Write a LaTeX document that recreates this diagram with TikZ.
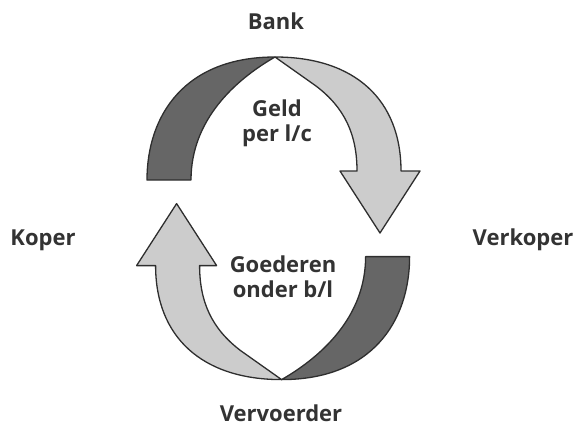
\documentclass[tikz,border=0pt]{standalone}
\usepackage{fontspec}
\setmainfont{Open Sans}
\definecolor{bandDark}{HTML}{666666}
\definecolor{bandLight}{HTML}{CCCCCC}
\definecolor{edge}{HTML}{2E2E2E}
\definecolor{txt}{HTML}{333333}
\tikzset{
  band/.style={draw=edge, line width=1.3pt, line join=round},
  lbl/.style={text=txt, font=\bfseries\fontsize{22}{25}\selectfont, inner sep=0pt, anchor=base, align=center},
}
\begin{document}
\begin{tikzpicture}[x=1pt,y=-1pt]
\useasboundingbox (0,0) rectangle (575,433);
\newcommand{\halfcycle}{%
  % dark crescent
  \path[band, fill=bandDark] (147,180) .. controls (147,115) and (185,57) .. (275,57)
    .. controls (235,80) and (191,120) .. (191,180) -- cycle;
  % light arrow
  \path[band, fill=bandLight] (275,57) .. controls (355,57) and (401,100) .. (401,171)
    -- (420,171) -- (380,233) -- (340,171) -- (357,171)
    .. controls (357,135) and (345,108) .. (316,86) -- cycle;
}
\halfcycle
\begin{scope}[rotate around={180:(278.3,218.3)}]
\halfcycle
\end{scope}
\node[lbl] (bank) at (276,30) {Bank};
\node[lbl] (koper) at (43,245) {Koper};
\node[lbl] (verkoper) at (523,245) {Verkoper};
\node[lbl] (vervoerder) at (281,421) {Vervoerder};
\node[lbl] (geld) at (277,142) {Geld\\per l/c};
\node[lbl] (goed) at (283,297) {Goederen\\onder b/l};
\end{tikzpicture}
\end{document}
